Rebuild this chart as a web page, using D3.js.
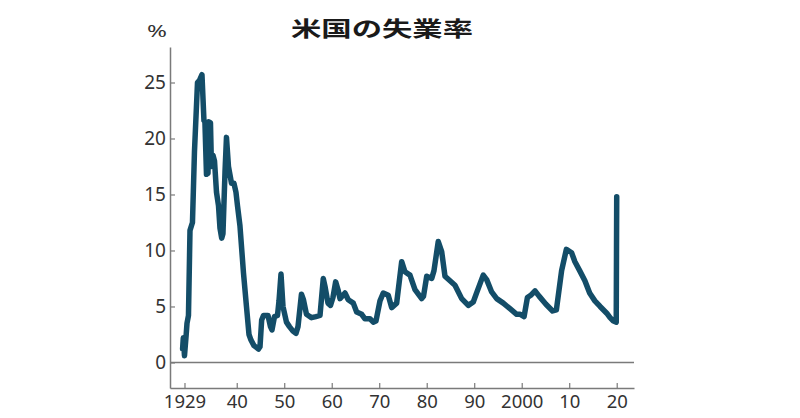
<!DOCTYPE html>
<html>
<head>
<meta charset="utf-8">
<script src="https://cdn.jsdelivr.net/npm/d3@7"></script>
<style>
  html, body { margin: 0; padding: 0; background: #fff; }
  svg { display: block; }
</style>
</head>
<body>
<svg id="chart" width="800" height="418"></svg>
<script>
// ---- data ----
const years = [
  1928.6, 1928.75, 1929.0, 1929.36, 1929.53, 1929.84, 1930.16, 1930.68, 1931.1, 1931.74,
  1932.16, 1932.68, 1933.1, 1933.3, 1933.63, 1933.95, 1934.1, 1934.47, 1934.68, 1935.0,
  1935.32, 1935.74, 1936.16, 1936.47, 1936.83, 1937.1, 1937.53, 1937.84, 1938.26, 1938.47,
  1938.9, 1939.42, 1939.84, 1940.16, 1940.68, 1941.42, 1942.05, 1942.58, 1943.0, 1943.63,
  1944.58, 1944.9, 1945.25, 1945.63, 1946.58, 1947.1, 1947.42, 1947.95, 1948.58, 1948.9,
  1949.32, 1949.74, 1950.47, 1951.1, 1951.84, 1952.47, 1952.9, 1953.63, 1954.05, 1954.68,
  1955.74, 1956.68, 1957.53, 1958.22, 1958.58, 1959.21, 1959.74, 1960.26, 1960.83, 1961.32,
  1961.74, 1962.79, 1963.48, 1964.54, 1965.25, 1966.31, 1967.0, 1968.05, 1968.75, 1969.32,
  1970.16, 1970.85, 1971.9, 1972.62, 1973.67, 1974.73, 1975.42, 1976.47, 1977.53, 1978.94,
  1979.32, 1980.0, 1981.05, 1981.53, 1982.43, 1983.15, 1983.84, 1984.9, 1985.95, 1987.36,
  1988.75, 1989.8, 1990.58, 1991.9, 1992.62, 1993.67, 1994.73, 1996.12, 1997.53, 1998.94,
  1999.7, 2000.5, 2001.2, 2001.9, 2002.8, 2003.7, 2005.1, 2006.5, 2007.3, 2008.4,
  2009.4, 2010.5, 2011.2, 2012.2, 2013.3, 2014.3, 2015.4, 2016.5, 2017.9, 2018.6,
  2019.3, 2019.9, 2020.0
];
const rates = [
  1.2, 2.2, 0.6, 2.5, 3.5, 4.2, 11.8, 12.5, 18.8, 25.0,
  25.2, 25.7, 21.6, 21.5, 16.8, 16.9, 21.5, 21.4, 17.5, 18.5,
  18.0, 15.2, 14.0, 12.0, 11.1, 11.5, 17.0, 20.1, 17.5, 17.0,
  16.0, 16.0, 15.2, 14.0, 12.2, 8.0, 5.0, 2.5, 2.0, 1.5,
  1.2, 1.4, 3.8, 4.2, 4.2, 3.2, 2.9, 4.1, 4.2, 5.5,
  7.9, 5.0, 3.6, 3.2, 2.8, 2.6, 3.2, 6.1, 5.6, 4.3,
  4.0, 4.1, 4.2, 7.5, 6.8, 5.3, 5.1, 5.8, 7.2, 6.5,
  5.7, 6.2, 5.6, 5.3, 4.5, 4.3, 3.9, 3.9, 3.6, 3.7,
  5.5, 6.2, 6.0, 4.9, 5.3, 9.0, 8.1, 7.8, 6.5, 5.7,
  5.9, 7.7, 7.5, 8.2, 10.8, 9.9, 7.7, 7.3, 6.9, 5.7,
  5.1, 5.4, 6.3, 7.8, 7.4, 6.3, 5.7, 5.3, 4.8, 4.3,
  4.3, 4.1, 5.8, 6.0, 6.4, 5.9, 5.2, 4.6, 4.7, 8.2,
  10.1, 9.8, 9.0, 8.2, 7.3, 6.2, 5.5, 5.0, 4.4, 4.0,
  3.7, 3.6, 14.8
];
const xTickYears  = [1929, 1940, 1950, 1960, 1970, 1980, 1990, 2000, 2010, 2020];
const xTickLabels = ["1929", "40", "50", "60", "70", "80", "90", "2000", "10", "20"];
const yTicks = [0, 5, 10, 15, 20, 25];
const titleText = "米国の失業率";
const unitText = "%";

// ---- drawing ----
const svg = d3.select("#chart");
const plotLeft = 170, plotRight = 634, plotTop = 47, plotBottom = 388;

const x = d3.scaleLinear().domain([1925.95, 2023.64]).range([plotLeft, plotRight]);
const y = d3.scaleLinear().domain([-2.28, 28.17]).range([plotBottom, plotTop]);

const txtFont = "'Noto Sans', 'DejaVu Sans', sans-serif";
const axisColor = "#7a7a7a";

// zero line
svg.append("line")
  .attr("x1", plotLeft).attr("x2", plotRight)
  .attr("y1", y(0)).attr("y2", y(0))
  .attr("stroke", axisColor).attr("stroke-width", 1.5);

// y axis
const yAxis = svg.append("g")
  .attr("transform", `translate(${plotLeft},0)`)
  .call(d3.axisLeft(y).tickValues(yTicks).tickSizeInner(-5).tickSizeOuter(0).tickPadding(4));
yAxis.select(".domain").attr("stroke", axisColor).attr("stroke-width", 1.5);
yAxis.selectAll(".tick line").attr("stroke", axisColor).attr("stroke-width", 1.2);
yAxis.selectAll(".tick text")
  .attr("font-family", txtFont).attr("font-size", 19).attr("fill", "#333");

// x axis
const xAxis = svg.append("g")
  .attr("transform", `translate(0,${plotBottom})`)
  .call(d3.axisBottom(x).tickValues(xTickYears)
    .tickFormat((d, i) => xTickLabels[i])
    .tickSizeInner(-5).tickSizeOuter(0).tickPadding(7));
xAxis.select(".domain").attr("stroke", axisColor).attr("stroke-width", 1.5);
xAxis.selectAll(".tick line").attr("stroke", axisColor).attr("stroke-width", 1.2);
xAxis.selectAll(".tick text")
  .attr("font-family", txtFont).attr("font-size", 18.5).attr("fill", "#333");

// line
const data = years.map((yr, i) => ({ yr, v: rates[i] }));
const line = d3.line().x(d => x(d.yr)).y(d => y(d.v));
svg.append("path")
  .datum(data)
  .attr("d", line)
  .attr("fill", "none")
  .attr("stroke", "#134d68")
  .attr("stroke-width", 5.5)
  .attr("stroke-linejoin", "round")
  .attr("stroke-linecap", "round");

// unit label
svg.append("text")
  .attr("x", 147).attr("y", 37)
  .attr("textLength", 20).attr("lengthAdjust", "spacingAndGlyphs")
  .attr("font-family", txtFont).attr("font-size", 17).attr("fill", "#333")
  .text(unitText);

// title
svg.append("text")
  .attr("x", 291).attr("y", 36)
  .attr("textLength", 182).attr("lengthAdjust", "spacingAndGlyphs")
  .attr("font-family", "'Noto Sans CJK JP', sans-serif")
  .attr("font-weight", "bold").attr("font-size", 21).attr("fill", "#1a1a1a")
  .text(titleText);
</script>
</body>
</html>
